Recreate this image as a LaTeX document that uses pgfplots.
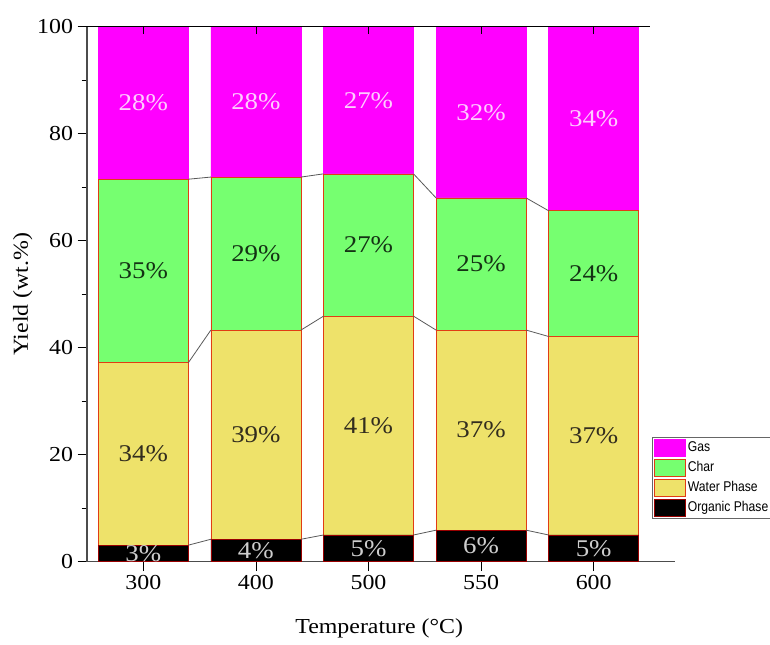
\documentclass[border=0pt]{standalone}
\usepackage{pgfplots}
\pgfplotsset{compat=1.18}
\usepackage{fontspec}
\setmainfont{Liberation Serif}[FakeStretch=1.12]
\newfontfamily\legfont{Liberation Sans}[FakeStretch=0.86]
\definecolor{gasc}{RGB}{255,0,255}
\definecolor{charc}{RGB}{118,255,112}
\definecolor{waterc}{RGB}{238,226,106}
\definecolor{edgec}{RGB}{225,60,20}
\definecolor{gaslab}{RGB}{255,205,255}
\definecolor{charlab}{RGB}{20,50,20}
\definecolor{waterlab}{RGB}{50,45,30}
\definecolor{orglab}{RGB}{205,205,205}
\pgfplotsset{
  leg/.style={legend image code/.code={\draw[##1] (0pt,-6.5pt) rectangle (23pt,6.5pt);}},
  lab/.style={draw=none, mark=none, nodes near coords, point meta=explicit symbolic,
    every node near coord/.append style={anchor=center, font=\fontsize{18}{20}\selectfont, text=#1}},
}
\begin{document}
\begin{tikzpicture}
\path[use as bounding box] (-65.25pt,-61.7pt) rectangle (512.25pt,421.3pt);
\begin{axis}[
  at={(0,0)}, anchor=south west,
  scale only axis, width=422.25pt, height=401.25pt,
  xmin=-0.5, xmax=4.5, ymin=0, ymax=100,
  ybar stacked, bar width=0.8, bar shift=0pt,
  axis lines*=left,
  xtick={0,1,2,3,4}, xticklabels={300,400,500,550,600},
  ytick={0,20,...,100}, minor y tick num=1,
  tick align=outside,
  major tick length=7pt, minor tick length=4pt,
  tick style={black, line width=0.6pt},
  axis line style={black!70, line width=0.8pt},
  ticklabel style={font=\fontsize{16}{18}\selectfont},
  /pgf/number format/assume math mode=true,
  xlabel={Temperature (°C)}, ylabel={Yield (wt.\%)},
  label style={font=\fontsize{16}{18}\selectfont},
  xlabel style={at={(axis description cs:0.519,-0.124)}, anchor=center},
  ylabel style={at={(axis description cs:-0.114,0.5)}, anchor=center},
  legend style={at={(axis description cs:1.004,0.233)}, anchor=north west,
    draw=black!60, line width=0.5pt, font=\legfont\fontsize{10.6}{12}\selectfont,
    inner sep=1pt, row sep=1.5pt, cells={anchor=west}},
  reverse legend,
]
\addplot[fill=black, draw=red!60!black, line width=0.5pt, leg]
  coordinates {(0,3.1)(1,4.2)(2,5.0)(3,5.9)(4,5.0)};
\addplot[fill=waterc, draw=edgec, line width=0.5pt, leg]
  coordinates {(0,34.1)(1,39.1)(2,40.9)(3,37.4)(4,37.1)};
\addplot[fill=charc, draw=edgec, line width=0.5pt, leg]
  coordinates {(0,34.3)(1,28.6)(2,26.6)(3,24.7)(4,23.5)};
\addplot[fill=gasc, draw=gasc, line width=0.5pt, leg]
  coordinates {(0,28.5)(1,28.1)(2,27.5)(3,32.0)(4,34.4)};
\legend{Organic Phase, Water Phase, Char, Gas}
\end{axis}
\begin{axis}[
  at={(0,0)}, anchor=south west,
  scale only axis, width=422.25pt, height=401.25pt,
  xmin=-0.5, xmax=4.5, ymin=0, ymax=100,
  hide axis, clip=false,
]
% connecting lines between bars
\addplot[black!65, line width=0.6pt, unbounded coords=jump] coordinates {
  (0.4,3.1)(0.6,4.2)(0.6,nan)(1.4,4.2)(1.6,5.0)(1.6,nan)(2.4,5.0)(2.6,5.9)(2.6,nan)(3.4,5.9)(3.6,5.0)(3.6,nan)
  (0.4,37.2)(0.6,43.3)(0.6,nan)(1.4,43.3)(1.6,45.9)(1.6,nan)(2.4,45.9)(2.6,43.3)(2.6,nan)(3.4,43.3)(3.6,42.1)(3.6,nan)
  (0.4,71.5)(0.6,71.9)(0.6,nan)(1.4,71.9)(1.6,72.5)(1.6,nan)(2.4,72.5)(2.6,68.0)(2.6,nan)(3.4,68.0)(3.6,65.6)
};
% top frame line with inward ticks
\addplot[black, line width=1pt] coordinates {(-0.5,100)(4.5,100)};
\addplot[black, line width=0.6pt, unbounded coords=jump] coordinates {
  (0,100)(0,98.6)(0,nan)(1,100)(1,98.6)(1,nan)(2,100)(2,98.6)(2,nan)(3,100)(3,98.6)(3,nan)(4,100)(4,98.6)
};
% bottom line extension
\addplot[black!70, line width=0.8pt] coordinates {(4.5,0)(4.72,0)};
\addplot[lab=gaslab] coordinates {(0,85.75)[28\%] (1,85.95)[28\%] (2,86.25)[27\%] (3,84.0)[32\%] (4,82.8)[34\%]};
\addplot[lab=charlab] coordinates {(0,54.35)[35\%] (1,57.6)[29\%] (2,59.2)[27\%] (3,55.65)[25\%] (4,53.85)[24\%]};
\addplot[lab=waterlab] coordinates {(0,20.15)[34\%] (1,23.75)[39\%] (2,25.45)[41\%] (3,24.6)[37\%] (4,23.55)[37\%]};
\addplot[lab=orglab] coordinates {(0,1.6)[3\%] (1,2.1)[4\%] (2,2.5)[5\%] (3,2.95)[6\%] (4,2.5)[5\%]};
\end{axis}
\end{tikzpicture}
\end{document}
